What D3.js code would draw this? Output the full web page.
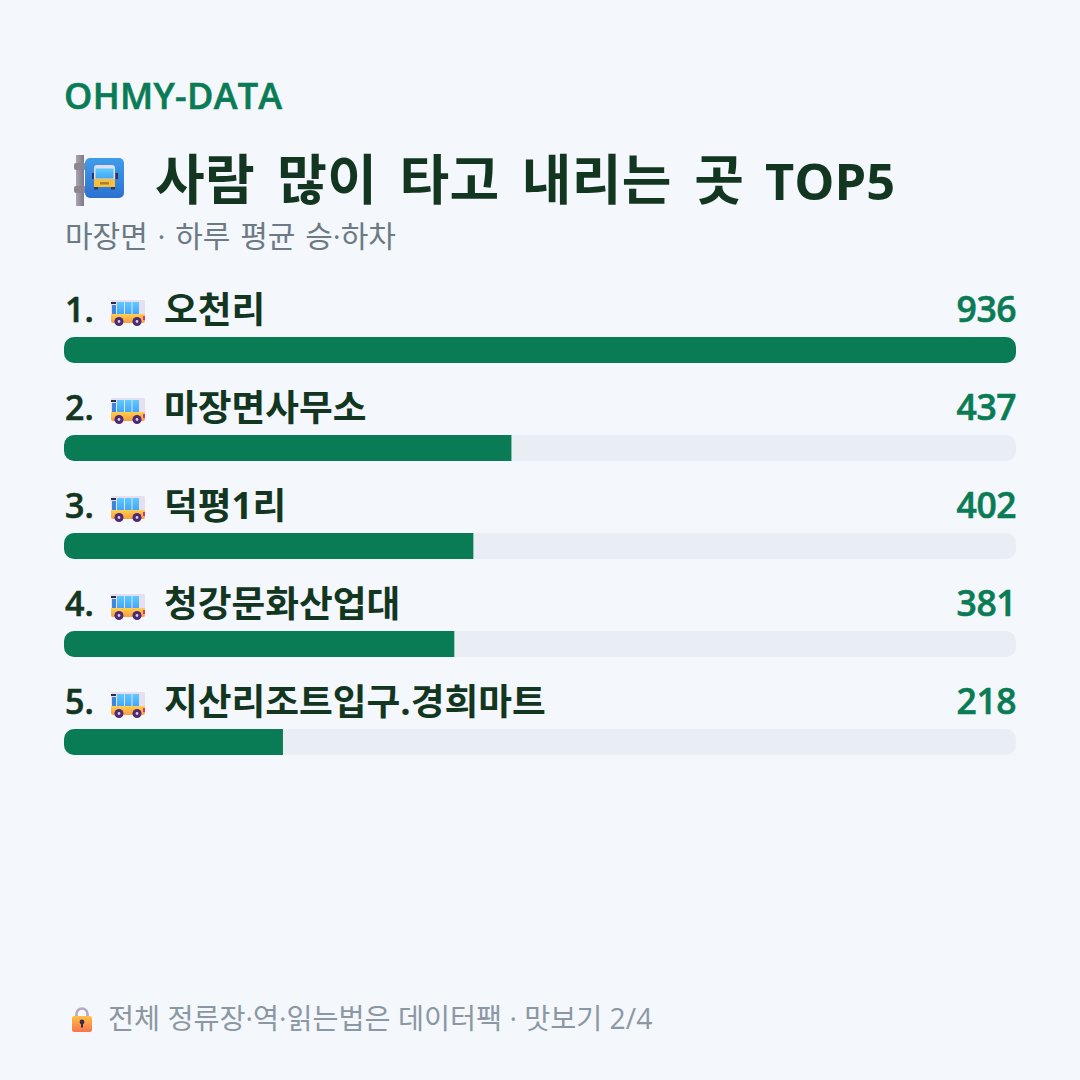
<!DOCTYPE html>
<html lang="ko">
<head>
<meta charset="utf-8">
<script src="https://cdn.jsdelivr.net/npm/d3@7/dist/d3.min.js"></script>
<style>
html,body{margin:0;padding:0;background:#f4f7fb;}
svg{display:block;}
text{font-family:"Open Sans","Noto Sans CJK KR",sans-serif;}
</style>
</head>
<body>
<svg id="chart" width="1080" height="1080"></svg>
<script>
const stops = ["오천리","마장면사무소","덕평1리","청강문화산업대","지산리조트입구.경희마트"];
const riders = [936,437,402,381,218];
const brand = "OHMY-DATA";
const titleKo = "사람 많이 타고 내리는 곳 ";
const titleLatin = "TOP5";
const subtitle = "마장면 · 하루 평균 승·하차";
const footnote = "전체 정류장·역·읽는법은 데이터팩 · 맛보기 2/4";

const kr = '"Noto Sans CJK KR",sans-serif';
const svg = d3.select("#chart");
svg.append("rect").attr("width",1080).attr("height",1080).attr("fill","#f4f7fb");

svg.append("text").attr("x",64).attr("y",109).attr("font-size",36).attr("font-weight",600)
  .attr("fill","#0a7c55").attr("stroke","#0a7c55").attr("stroke-width",0.6).attr("letter-spacing",0.3).text(brand);

const titleText = svg.append("text").attr("x",155).attr("y",200).attr("font-family",kr).attr("font-weight",700).attr("fill","#12361f");
titleText.append("tspan").attr("font-size",54).attr("letter-spacing",0.3).attr("word-spacing",8).attr("xml:space","preserve").text(titleKo);
titleText.append("tspan").attr("x",765).attr("font-size",50.5).text(titleLatin);

svg.append("text").attr("x",65).attr("y",247).attr("font-family",kr).attr("font-size",30).attr("font-weight",400)
  .attr("fill","#6c7a84").attr("word-spacing",2).text(subtitle);
svg.append("text").attr("x",108).attr("y",1029).attr("font-family",kr).attr("font-size",28.3).attr("font-weight",400)
  .attr("fill","#8b97a3").text(footnote);

// Bars are sized by each stop's whole-percent share of the busiest stop.
const share = v => Math.round(v / d3.max(riders) * 100);
const x = d3.scaleLinear().domain([0,100]).range([64,1016]);
const y = d3.scalePoint().domain(stops).range([337,729]);

const defs = svg.append("defs");
stops.forEach((s,i) => {
  defs.append("clipPath").attr("id",`track${i}`).append("rect")
    .attr("x",x(0)).attr("y",y(s)).attr("width",x(100)-x(0)).attr("height",26).attr("rx",10);
});

const rows = svg.selectAll("g.row").data(stops).join("g").attr("class","row");
rows.append("rect").attr("x",x(0)).attr("y",d=>y(d)).attr("width",x(100)-x(0)).attr("height",26).attr("rx",10).attr("fill","#e9edf4");
rows.append("rect").attr("x",x(0)).attr("y",d=>y(d)).attr("width",(d,i)=>x(share(riders[i]))-x(0)).attr("height",26)
  .attr("clip-path",(d,i)=>`url(#track${i})`).attr("fill","#0a7c55");
rows.append("text").attr("x",65).attr("y",d=>y(d)-15).attr("font-size",34).attr("font-weight",600)
  .attr("stroke","#12361f").attr("stroke-width",0.6).attr("fill","#12361f").text((d,i)=>`${i+1}.`);
rows.append("text").attr("x",164).attr("y",d=>y(d)-14.5).attr("font-family",kr).attr("font-size",36.7).attr("font-weight",700).attr("fill","#12361f").text(d=>d);
rows.append("text").attr("x",1016).attr("y",d=>y(d)-15).attr("text-anchor","end").attr("font-size",35.5).attr("font-weight",600)
  .attr("stroke","#0a7c55").attr("stroke-width",0.6).attr("letter-spacing",-0.5).attr("fill","#0a7c55").text((d,i)=>riders[i]);

// Small flat-colour pictograms, each drawn in its own local coordinates.
const gradient = (id,a,b,horizontal) => {
  const g = defs.append("linearGradient").attr("id",id).attr("x1",0).attr("y1",0).attr("x2",horizontal?1:0).attr("y2",horizontal?0:1);
  g.append("stop").attr("offset",0).attr("stop-color",a);
  g.append("stop").attr("offset",1).attr("stop-color",b);
};
gradient("busBody","#ffcf4f","#fb9d3e");
gradient("busGlass","#5ccbfc","#44a6f7");
gradient("signBlue","#409de9","#2b71d2");
gradient("lockBody","#ffc043","#f8724f");
gradient("pole","#a9a4ae","#7f7a87",true);

function bus(g){
  g.append("rect").attr("x",0).attr("y",0).attr("width",34).attr("height",15).attr("rx",1.5).attr("fill","#e7dff0");
  [[6,7],[14,6.5],[21.5,6.5]].forEach(([a,w])=>g.append("rect").attr("x",a).attr("y",2).attr("width",w).attr("height",12).attr("fill","url(#busGlass)"));
  g.append("rect").attr("x",0).attr("y",2).attr("width",5).attr("height",2).attr("fill","#2c2c44");
  g.append("rect").attr("x",1).attr("y",5).attr("width",4).attr("height",9).attr("fill","#3d86d8");
  g.append("path").attr("d","M0 14H34V21a2 2 0 0 1-2 2H2a2 2 0 0 1-2-2Z").attr("fill","url(#busBody)");
  g.append("rect").attr("x",32).attr("y",16).attr("width",2).attr("height",4).attr("fill","#d8337f");
  [8,26].forEach(c=>{
    g.append("circle").attr("cx",c).attr("cy",21.5).attr("r",4.5).attr("fill","#4b2a73");
    g.append("circle").attr("cx",c).attr("cy",21.5).attr("r",1.4).attr("fill","#d9cfe4");
  });
}
svg.selectAll("g.bus").data(stops).join("g").attr("class","bus")
  .attr("transform",d=>`translate(111,${y(d)-37})`).each(function(){bus(d3.select(this));});

const sign = svg.append("g").attr("transform","translate(74,155)");
sign.append("rect").attr("x",2).attr("y",0).attr("width",8).attr("height",51).attr("fill","url(#pole)");
sign.append("rect").attr("x",0).attr("y",8).attr("width",12).attr("height",7).attr("rx",2).attr("fill","#8a8591");
sign.append("rect").attr("x",0).attr("y",31).attr("width",12).attr("height",7).attr("rx",2).attr("fill","#8a8591");
sign.append("rect").attr("x",11).attr("y",3).attr("width",39).attr("height",40).attr("rx",5).attr("fill","url(#signBlue)");
sign.append("rect").attr("x",18).attr("y",18).attr("width",2.5).attr("height",6).attr("fill","#34305a");
sign.append("rect").attr("x",41.5).attr("y",18).attr("width",2.5).attr("height",6).attr("fill","#34305a");
sign.append("rect").attr("x",20).attr("y",10).attr("width",21).attr("height",20).attr("rx",3).attr("fill","#e2dcec");
sign.append("rect").attr("x",21.5).attr("y",13.5).attr("width",18).attr("height",10).attr("fill","url(#busGlass)");
sign.append("rect").attr("x",20).attr("y",24).attr("width",21).attr("height",8).attr("fill","#f5c03c");
sign.append("rect").attr("x",26).attr("y",27).attr("width",9).attr("height",2.5).attr("fill","#a9803a");
sign.append("rect").attr("x",20).attr("y",32).attr("width",4).attr("height",2.5).attr("fill","#3d3557");
sign.append("rect").attr("x",37).attr("y",32).attr("width",4).attr("height",2.5).attr("fill","#3d3557");

const lock = svg.append("g").attr("transform","translate(72,1007)");
lock.append("path").attr("d","M4.5 10V7a5.5 5.5 0 0 1 11 0V10").attr("fill","none").attr("stroke","#b5a8c2").attr("stroke-width",2.6);
lock.append("rect").attr("x",0).attr("y",9).attr("width",20).attr("height",16).attr("rx",2.5).attr("fill","url(#lockBody)");
lock.append("circle").attr("cx",10).attr("cy",15).attr("r",2.4).attr("fill","#3c2a4d");
lock.append("rect").attr("x",9).attr("y",15.5).attr("width",2).attr("height",5).attr("fill","#3c2a4d");
</script>
</body>
</html>
